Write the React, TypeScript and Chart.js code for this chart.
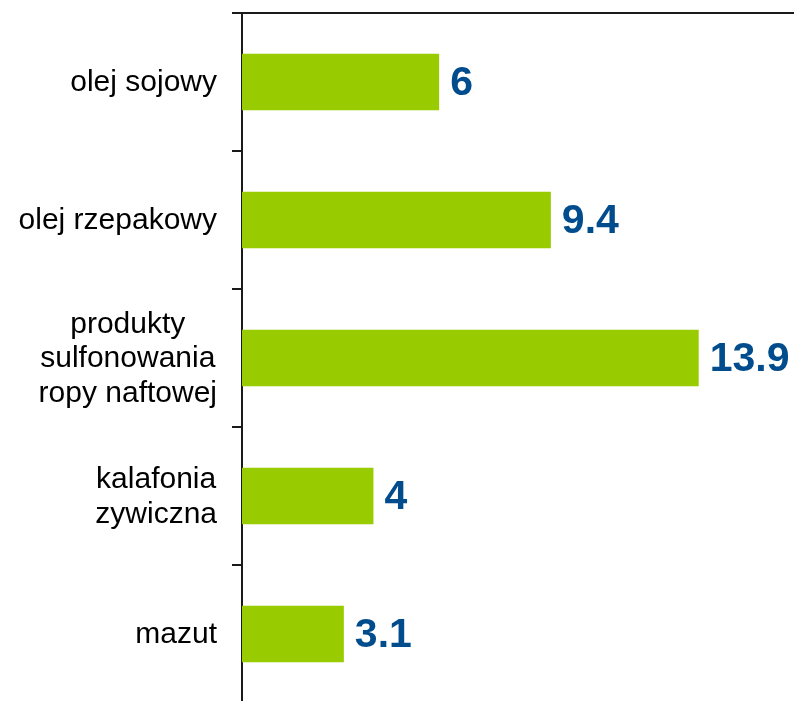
import React, { useEffect, useRef } from "react";
import { Chart, registerables } from "chart.js";

Chart.register(...registerables);

const categories: string[][] = [
  ["olej sojowy"],
  ["olej rzepakowy"],
  ["produkty", "sulfonowania", "ropy naftowej"],
  ["kalafonia", "zywiczna"],
  ["mazut"],
];
const values: number[] = [6, 9.4, 13.9, 4, 3.1];
const valueLabels: string[] = ["6", "9.4", "13.9", "4", "3.1"];
const xMin = 0;
const xMax = 16.8;

const FONT = "'Liberation Sans', Arial, sans-serif";

const labelPlugin = {
  id: "customLabels",
  afterDraw(chart: any) {
    const ctx = chart.ctx as CanvasRenderingContext2D;
    const yScale = chart.scales.y;
    ctx.save();
    // category labels: block right-aligned, lines centered within block
    ctx.font = `30px ${FONT}`;
    ctx.fillStyle = "#000000";
    ctx.textAlign = "center";
    ctx.textBaseline = "middle";
    const right = 217;
    const lh = 34.5;
    categories.forEach((lines, i) => {
      const cy = yScale.getPixelForValue(i);
      const widest = Math.max(...lines.map((l) => ctx.measureText(l).width));
      const cx = right - widest / 2;
      lines.forEach((l, j) => {
        ctx.fillText(l, cx, cy + 1 + (j - (lines.length - 1) / 2) * lh);
      });
    });
    // value labels
    const meta = chart.getDatasetMeta(0);
    ctx.font = `bold 41px ${FONT}`;
    ctx.fillStyle = "#004C8C";
    ctx.textAlign = "left";
    meta.data.forEach((bar: any, i: number) => {
      ctx.fillText(valueLabels[i], bar.x + 11, bar.y + 2);
    });
    ctx.restore();
  },
};

export default function App() {
  const ref = useRef<HTMLCanvasElement | null>(null);
  useEffect(() => {
    if (!ref.current) return;
    const chart = new Chart(ref.current, {
      type: "bar",
      data: {
        labels: categories,
        datasets: [
          {
            data: values,
            backgroundColor: "#99CC00",
            borderWidth: 0,
            barPercentage: 0.41,
            categoryPercentage: 1,
          },
        ],
      },
      options: {
        indexAxis: "y",
        animation: false,
        responsive: false,
        devicePixelRatio: 1,
        layout: { padding: { top: 13, left: 0, right: 0, bottom: 2 } },
        plugins: {
          legend: { display: false },
          tooltip: { enabled: false },
        },
        scales: {
          x: {
            position: "top",
            min: xMin,
            max: xMax,
            grid: { display: false, drawTicks: false },
            ticks: { display: false },
            border: { display: true, color: "#1a1a1a", width: 2 },
            afterFit: (s: any) => {
              s.height = 0;
            },
          },
          y: {
            position: "left",
            grid: {
              display: true,
              drawOnChartArea: false,
              drawTicks: true,
              tickLength: 10,
              color: "#1a1a1a",
              lineWidth: 2,
              offset: true,
            },
            ticks: { display: false },
            border: { display: true, color: "#1a1a1a", width: 2 },
            afterFit: (s: any) => {
              s.width = 242;
            },
          },
        },
      },
      plugins: [labelPlugin],
    });
    return () => chart.destroy();
  }, []);
  return (
    <div
      style={{
        position: "fixed",
        left: 0,
        top: 0,
        width: 794,
        height: 701,
        overflow: "hidden",
        background: "#fff",
      }}
    >
      <canvas ref={ref} width={794} height={705} style={{ width: 794, height: 705, display: "block" }} />
    </div>
  );
}
